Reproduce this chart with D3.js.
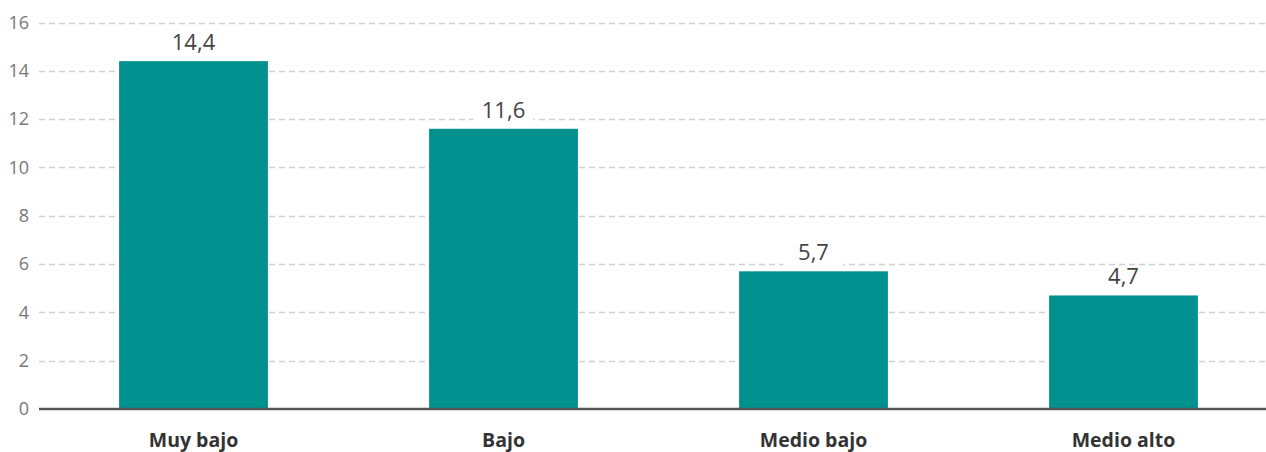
<!DOCTYPE html>
<html>
<head>
<meta charset="utf-8">
<script src="https://cdn.jsdelivr.net/npm/d3@7"></script>
<style>
  body { margin: 0; background: #fff; }
  svg { display: block; font-family: "Open Sans", sans-serif; }
</style>
</head>
<body>
<script>
const categories = ["Muy bajo", "Bajo", "Medio bajo", "Medio alto"];
const values = [14.4, 11.6, 5.7, 4.7];
const yTicks = [0, 2, 4, 6, 8, 10, 12, 14, 16];

const width = 1266;
const height = 452;

const svg = d3
  .select("body")
  .append("svg")
  .attr("width", width)
  .attr("height", height);

const x = d3
  .scaleBand()
  .domain(categories)
  .range([38.5, 1278.5])
  .paddingInner(0.52)
  .paddingOuter(0.26);

const y = d3.scaleLinear().domain([0, 16]).range([409, 22.5]);

//Gridlines
svg
  .selectAll("line.grid")
  .data(yTicks.filter((d) => d > 0))
  .enter()
  .append("line")
  .attr("class", "grid")
  .attr("x1", 39)
  .attr("x2", width)
  .attr("y1", (d) => Math.round(y(d)) + 0.5)
  .attr("y2", (d) => Math.round(y(d)) + 0.5)
  .attr("stroke", "#d0d0d0")
  .attr("stroke-width", 1.5)
  .attr("stroke-dasharray", "6,4");

//Y axis labels
const yAxis = d3.axisLeft(y).tickValues(yTicks).tickSize(0).tickPadding(0);
svg
  .append("g")
  .attr("transform", "translate(29,0)")
  .call(yAxis)
  .call((g) => g.select(".domain").remove())
  .selectAll("text")
  .attr("fill", "#777")
  .attr("font-size", 18)
  .attr("font-family", "'Open Sans', sans-serif");

//Bars
svg
  .selectAll("rect.bar")
  .data(values)
  .enter()
  .append("rect")
  .attr("class", "bar")
  .attr("x", (d, i) => x(categories[i]))
  .attr("width", x.bandwidth())
  .attr("y", (d) => y(d))
  .attr("height", (d) => y(0) - y(d))
  .attr("fill", "#00918e");

//Value labels with white background
const fmt = (d) => d.toFixed(1).replace(".", ",");
const labels = svg
  .selectAll("g.val")
  .data(values)
  .enter()
  .append("g")
  .attr("class", "val")
  .attr(
    "transform",
    (d, i) => `translate(${x(categories[i]) + x.bandwidth() / 2},${y(d) - 11})`
  );
labels
  .append("rect")
  .attr("x", -30)
  .attr("y", -18)
  .attr("width", 60)
  .attr("height", 23)
  .attr("fill", "#fff");
labels
  .append("text")
  .attr("text-anchor", "middle")
  .attr("font-size", 22)
  .attr("fill", "#444")
  .text((d) => fmt(d));

//Baseline
svg
  .append("line")
  .attr("x1", 39)
  .attr("x2", width)
  .attr("y1", y(0))
  .attr("y2", y(0))
  .attr("stroke", "#555")
  .attr("stroke-width", 2.5);

//Category labels
const xAxis = d3.axisBottom(x).tickSize(0).tickPadding(0);
svg
  .append("g")
  .attr("transform", "translate(0,433)")
  .call(xAxis)
  .call((g) => g.select(".domain").remove())
  .selectAll("text")
  .attr("fill", "#333")
  .attr("font-size", 19.5)
  .attr("font-weight", "bold")
  .attr("font-family", "'Open Sans', sans-serif");
</script>
</body>
</html>
